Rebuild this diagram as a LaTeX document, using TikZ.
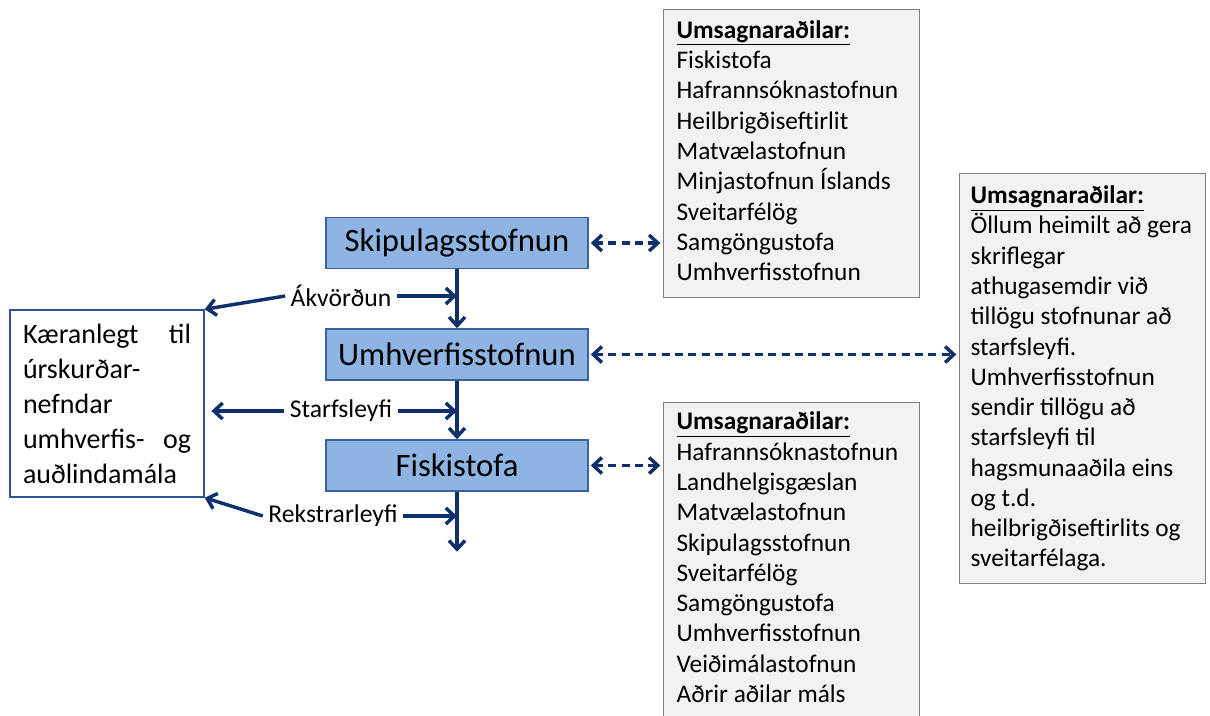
\documentclass[tikz,border=0pt]{standalone}
\usepackage{fontspec}
\setmainfont{Carlito}
\usetikzlibrary{arrows.meta,positioning}
\definecolor{navy}{HTML}{10306B}
\definecolor{boxblue}{HTML}{8DB4E2}
\definecolor{boxedge}{HTML}{3A6399}
\definecolor{kaeredge}{HTML}{2F5597}
\definecolor{listgray}{HTML}{F2F2F2}
\definecolor{listedge}{HTML}{7F7F7F}

\begin{document}
\begin{tikzpicture}[x=0.75pt, y=-0.75pt,
    agency/.style = {draw=boxedge, fill=boxblue, line width=1.1pt, minimum width=196.5pt, minimum height=38.25pt, font=\fontsize{24.5}{28}\selectfont},
    listbox/.style = {draw=listedge, fill=listgray, line width=0.9pt, anchor=north west, align=flush left, inner xsep=9.75pt, font=\fontsize{19}{22.7}\selectfont},
    flow/.style = {navy, line width=2.6pt, -{Straight Barb[length=6.5pt,width=12pt]}},
    consult/.style = {flow, dash pattern=on 6pt off 4pt, shorten <=1.5pt, shorten >=2pt, {Straight Barb[length=6.5pt,width=12pt]}-{Straight Barb[length=6.5pt,width=12pt]}},
    lbl/.style = {inner xsep=4pt, font=\fontsize{19.2}{22}\selectfont}
  ]

  \useasboundingbox (0,0) rectangle (1210,715);
  \clip (0,0) rectangle (1210,715);

  % Agencies in the permit chain
  \node[agency] (skip) at (457,243) {Skipulagsstofnun};
  \node[agency] (umh) at (457,354.5) {Umhverfisstofnun};
  \node[agency] (fisk) at (457,465.5) {Fiskistofa};

  % Appeals committee
  \node[draw=kaeredge, fill=white, line width=1.1pt, minimum height=140.25pt, text width=126pt, inner xsep=9.75pt, align=flush left, font=\fontsize{21}{26.25}\selectfont] (kaer) at (107,403.5)
    {Kæranlegt\hfill til\\ úrskurðar-\\ nefndar\\ umhverfis-\hfill og\\ auðlindamála};

  % Reviewers
  \node[listbox, text width=172.5pt, minimum height=216pt, text depth=186.1pt] (rev1) at (663,9)
    {\underline{\textbf{Umsagnaraðilar:}}\\ Fiskistofa\\ Hafrannsóknastofnun\\ Heilbrigðiseftirlit\\ Matvælastofnun\\ Minjastofnun Íslands\\ Sveitarfélög\\ Samgöngustofa\\ Umhverfisstofnun};
  \node[listbox, text width=168pt, inner xsep=8.25pt, minimum height=307.5pt] (rev2) at (959,173)
    {\underline{\textbf{Umsagnaraðilar:}}\\ Öllum heimilt að gera\\ skriflegar\\ athugasemdir við\\ tillögu stofnunar að\\ starfsleyfi.\\ Umhverfisstofnun\\ sendir tillögu að\\ starfsleyfi til\\ hagsmunaaðila eins\\ og t.d.\\ heilbrigðiseftirlits og\\ sveitarfélaga.};
  \node[listbox, text width=172.5pt, minimum height=244pt, text depth=216.3pt] (rev3) at (663,402)
    {\underline{\textbf{Umsagnaraðilar:}}\\ Hafrannsóknastofnun\\ Landhelgisgæslan\\ Matvælastofnun\\ Skipulagsstofnun\\ Sveitarfélög\\ Samgöngustofa\\ Umhverfisstofnun\\ Veiðimálastofnun\\ Aðrir aðilar máls};

  % Decisions
  \node[lbl] (akv) at (341,296) {Ákvörðun};
  \node[lbl] (starf) at (341,411) {Starfsleyfi};
  \node[lbl] (rekstr) at (333,516) {Rekstrarleyfi};

  % Main flow
  \coordinate[below=45pt of fisk.south] (ende);
  \draw[flow] (skip) -- (umh);
  \draw[flow] (umh) -- (fisk);
  \draw[flow] (fisk) -- (ende);

  \draw[flow] (akv.east) -- (akv.east -| skip.south);
  \draw[flow] (starf.east) -- (starf.east -| umh.south);
  \draw[flow] (rekstr.east) -- (rekstr.east -| fisk.south);

  % Appeals
  \draw[flow] (akv.west) -- (kaer.north east);
  \draw[flow, shorten >=5pt] (starf.west) -- (starf.west -| kaer.east);
  \draw[flow] (rekstr.west) -- (kaer.south east);

  % Consultation
  \draw[consult] (skip.east) -- (skip.east -| rev1.west);
  \draw[consult] (umh.east) -- (umh.east -| rev2.west);
  \draw[consult] (fisk.east) -- (fisk.east -| rev3.west);

\end{tikzpicture}
\end{document}
